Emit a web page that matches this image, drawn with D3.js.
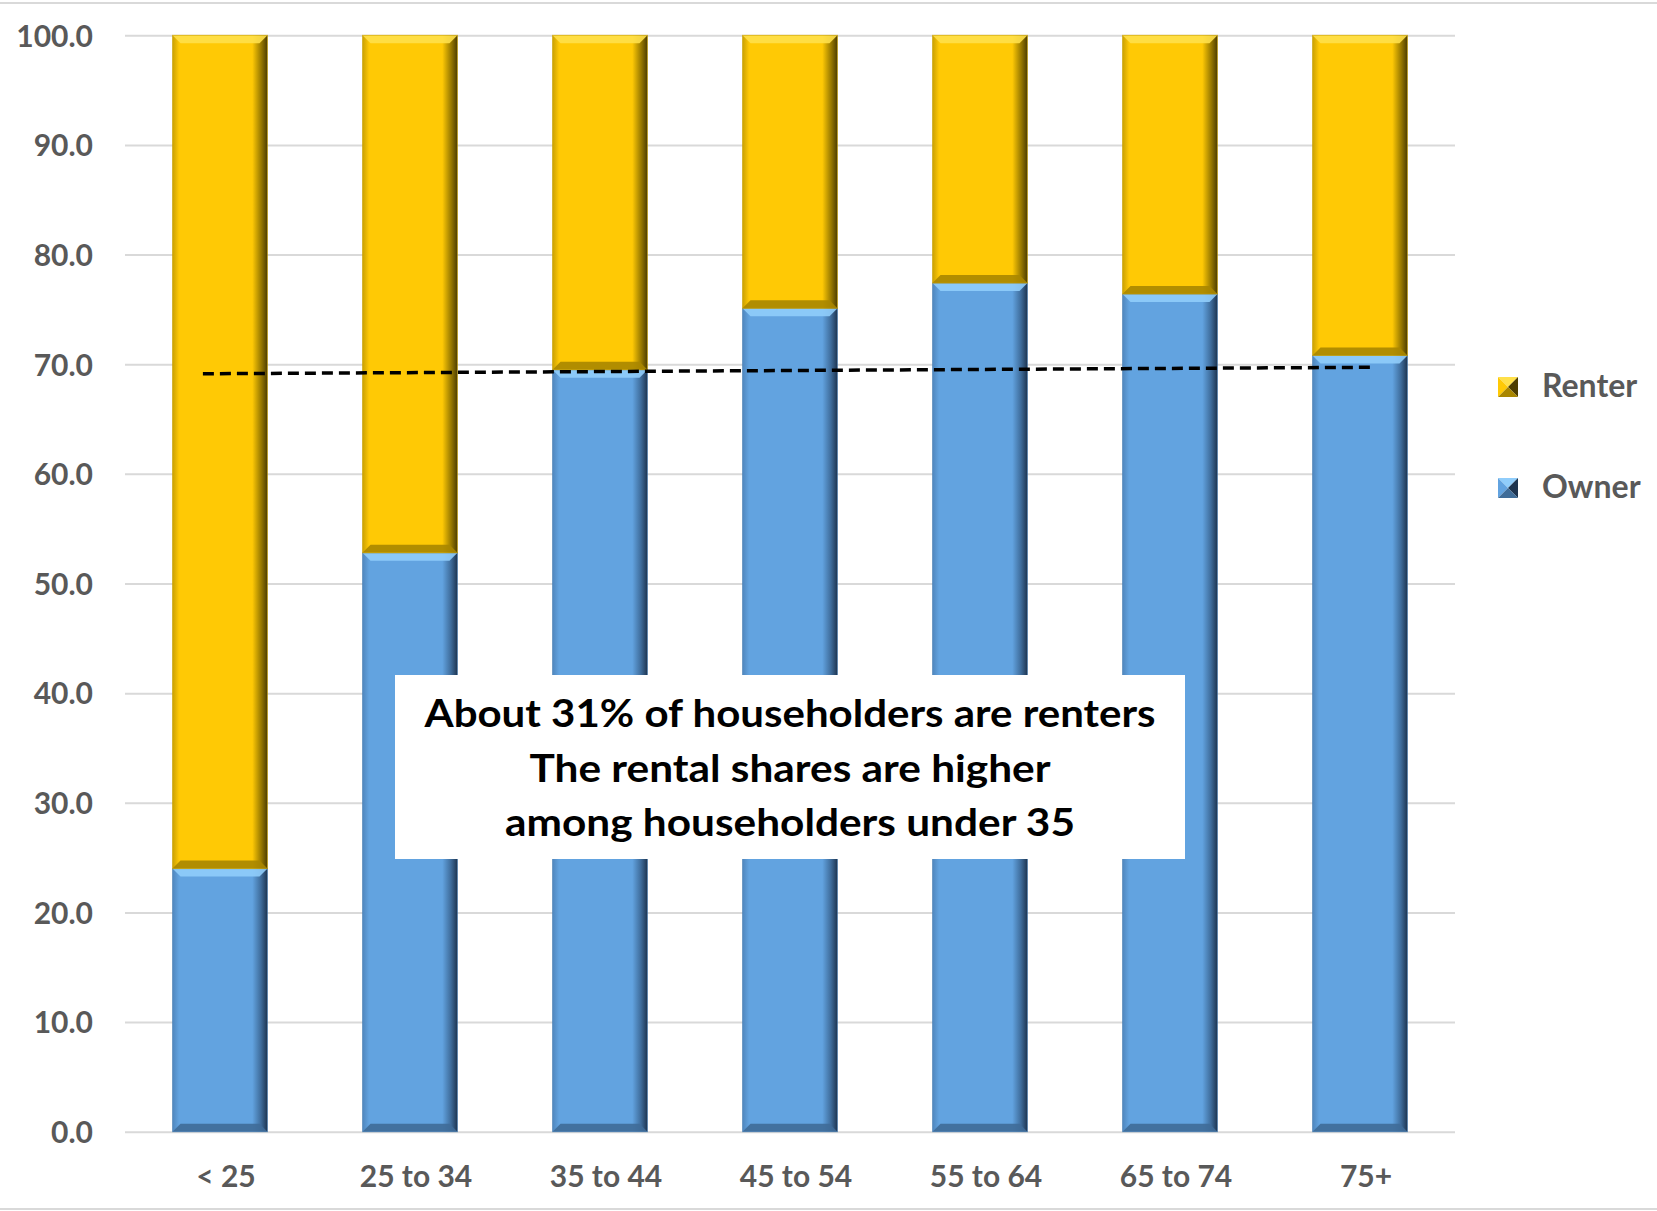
<!DOCTYPE html>
<html>
<head>
<meta charset="utf-8">
<script src="https://cdn.jsdelivr.net/npm/d3@7"></script>
<style>
  html, body { margin: 0; padding: 0; background: #ffffff; }
  svg { display: block; }
</style>
</head>
<body>
<script>
// ---- data ----
const categories = ["< 25", "25 to 34", "35 to 44", "45 to 54", "55 to 64", "65 to 74", "75+"];
const ownerShare = [24.0, 52.8, 69.5, 75.1, 77.4, 76.4, 70.8];
const renterShare = [76.0, 47.2, 30.5, 24.9, 22.6, 23.6, 29.2];
const yTicks = [0, 10, 20, 30, 40, 50, 60, 70, 80, 90, 100];
const seriesNames = ["Renter", "Owner"];
const trendPos = [-0.09, 6.06];       // category index positions of trend line ends
const trendValues = [69.13, 69.72];   // trend line values
const noteLines = ["About 31% of householders are renters", "The rental shares are higher", "among householders under 35"];

// ---- layout ----
const W = 1657, H = 1211;
const plotL = 125, plotR = 1455, plotT = 35.3, plotB = 1131.7;
const textGrey = "#595959";
const font = "Lato, 'Open Sans', 'DejaVu Sans', sans-serif";

const svg = d3.select("body").append("svg").attr("width", W).attr("height", H);
const defs = svg.append("defs");

function hGrad(id, stops) {
  const g = defs.append("linearGradient").attr("id", id)
    .attr("x1", "0%").attr("x2", "100%").attr("y1", "0%").attr("y2", "0%");
  stops.forEach(s => g.append("stop").attr("offset", s[0]).attr("stop-color", s[1]));
}
const palette = {
  Owner: { base: "#62a3e0", left: "#4f86bd", right: "#1d3450", light: "#90cdfb", dark: "#3f6c98" },
  Renter: { base: "#ffc905", left: "#c9a004", right: "#4d3d00", light: "#ffe04a", dark: "#a98600" }
};
hGrad("gOwner", [["0%", palette.Owner.left], ["7%", palette.Owner.base], ["84%", palette.Owner.base], ["93%", "#3f6d9c"], ["100%", palette.Owner.right]]);
hGrad("gRenter", [["0%", palette.Renter.left], ["7%", palette.Renter.base], ["84%", palette.Renter.base], ["93%", "#9c7c00"], ["100%", palette.Renter.right]]);

// chart area border lines
svg.append("line").attr("x1", 0).attr("x2", W).attr("y1", 3).attr("y2", 3)
  .attr("stroke", "#d9d9d9").attr("stroke-width", 2);
svg.append("line").attr("x1", 0).attr("x2", W).attr("y1", 1209).attr("y2", 1209)
  .attr("stroke", "#d9d9d9").attr("stroke-width", 2);

// ---- scales ----
const x = d3.scaleBand().domain(categories).range([plotL, plotR]).paddingInner(0.5).paddingOuter(0.25);
const y = d3.scaleLinear().domain([0, 100]).range([plotB, plotT]);
const xIdx = d3.scaleLinear().domain([0, categories.length - 1])
  .range([x(categories[0]) + x.bandwidth() / 2, x(categories[categories.length - 1]) + x.bandwidth() / 2]);

// ---- y axis with gridlines ----
const yAxis = svg.append("g").attr("transform", `translate(${plotL},0)`)
  .call(d3.axisLeft(y).tickValues(yTicks).tickFormat(d3.format(".1f"))
    .tickSizeInner(-(plotR - plotL)).tickSizeOuter(0).tickPadding(32));
yAxis.select(".domain").remove();
yAxis.selectAll(".tick line").attr("stroke", "#d9d9d9").attr("stroke-width", 2);
yAxis.selectAll(".tick text").attr("fill", textGrey).attr("font-family", font)
  .attr("font-weight", 700).attr("font-size", 30).attr("dy", "0.36em");

// ---- x axis labels ----
const xAxis = svg.append("g").attr("transform", `translate(6,${plotB})`)
  .call(d3.axisBottom(x).tickSize(0).tickPadding(0));
xAxis.select(".domain").remove();
xAxis.selectAll(".tick text").attr("fill", textGrey).attr("font-family", font)
  .attr("font-weight", 700).attr("font-size", 30).attr("y", 55).attr("dy", 0);

// ---- stacked bars ----
const rows = categories.map((c, i) => ({ cat: c, Owner: ownerShare[i], Renter: renterShare[i] }));
const stack = d3.stack().keys(["Owner", "Renter"])(rows);

function bevelSeg(g, key, x0, y0, w, h) {
  const p = palette[key];
  const b = Math.min(8, h / 3);
  g.append("rect").attr("x", x0).attr("y", y0).attr("width", w).attr("height", h)
    .attr("fill", `url(#g${key})`);
  g.append("polygon").attr("points", [[x0, y0], [x0 + w, y0], [x0 + w - b, y0 + b], [x0 + b, y0 + b]].join(" "))
    .attr("fill", p.light).attr("opacity", 0.9);
  g.append("polygon").attr("points", [[x0, y0 + h], [x0 + w, y0 + h], [x0 + w - b, y0 + h - b], [x0 + b, y0 + h - b]].join(" "))
    .attr("fill", p.dark).attr("opacity", 0.9);
  g.append("rect").attr("x", x0).attr("y", y0).attr("width", w).attr("height", h)
    .attr("fill", "none").attr("stroke", key === "Owner" ? "#4a7fb3" : "#c9a000").attr("stroke-width", 1).attr("stroke-opacity", 0.6);
}

stack.forEach(layer => {
  const g = svg.append("g").attr("class", "series-" + layer.key);
  layer.forEach(d => {
    const x0 = x(d.data.cat), w = x.bandwidth();
    const yTop = y(d[1]), yBot = y(d[0]);
    bevelSeg(g, layer.key, x0, yTop, w, yBot - yTop);
  });
});

// ---- trend line ----
const trend = trendPos.map((p, i) => ({ p, v: trendValues[i] }));
svg.append("path").datum(trend)
  .attr("d", d3.line().x(d => xIdx(d.p)).y(d => y(d.v)))
  .attr("stroke", "#000").attr("stroke-width", 3.5).attr("stroke-dasharray", "11 6").attr("fill", "none");

// ---- annotation box ----
const note = svg.append("g");
note.append("rect").attr("x", 395).attr("y", 675).attr("width", 790).attr("height", 184).attr("fill", "#ffffff");
const noteWidths = [731, 521, 570];
noteLines.forEach((t, i) => {
  note.append("text").attr("x", 790).attr("y", 727 + i * 54.5)
    .attr("text-anchor", "middle").attr("font-family", font).attr("font-weight", 700)
    .attr("font-size", 38).attr("fill", "#000")
    .attr("textLength", noteWidths[i]).attr("lengthAdjust", "spacingAndGlyphs")
    .text(t);
});

// ---- legend ----
function pyramid(g, key, x0, y0, s) {
  const p = palette[key];
  const c = [x0 + s / 2, y0 + s / 2];
  const tri = (pts, fill) => g.append("polygon").attr("points", pts.map(q => q.join(",")).join(" ")).attr("fill", fill);
  tri([[x0, y0], [x0 + s, y0], c], p.light);
  tri([[x0, y0], [x0, y0 + s], c], p.base);
  tri([[x0 + s, y0], [x0 + s, y0 + s], c], p.right);
  tri([[x0, y0 + s], [x0 + s, y0 + s], c], p.dark);
}
const legend = svg.append("g");
seriesNames.forEach((name, i) => {
  const ly = 377 + i * 101;
  pyramid(legend, name, 1498, ly, 20);
  legend.append("text").attr("x", 1542).attr("y", ly + 20)
    .attr("font-family", font).attr("font-weight", 700).attr("font-size", 32)
    .attr("fill", textGrey).text(name);
});
</script>
</body>
</html>
